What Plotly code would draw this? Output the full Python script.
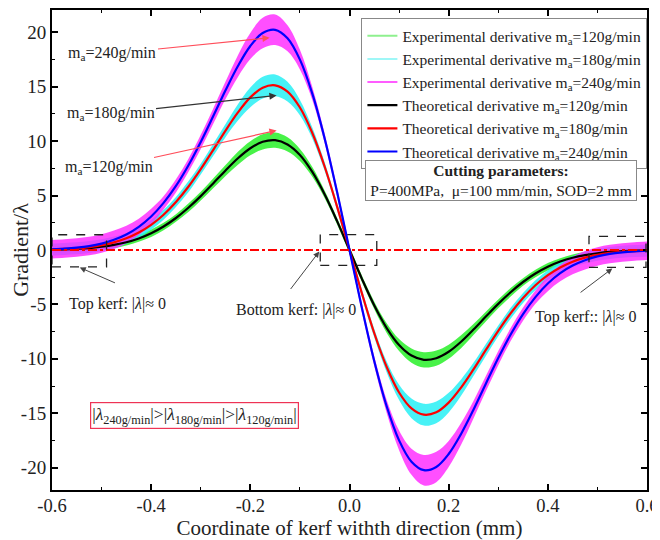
import plotly.graph_objects as go

# ---------------- data ----------------
X = [-0.6, -0.575, -0.55, -0.525, -0.5, -0.475, -0.45, -0.425, -0.4, -0.375, -0.35, -0.325,
     -0.3, -0.275, -0.25, -0.225, -0.2, -0.175, -0.15, -0.125, -0.1, -0.075, -0.05, -0.025,
     0.0, 0.025, 0.05, 0.075, 0.1, 0.125, 0.15, 0.175, 0.2, 0.225, 0.25, 0.275, 0.3, 0.325,
     0.35, 0.375, 0.4, 0.425, 0.45, 0.475, 0.5, 0.525, 0.55, 0.575, 0.6]

THEO_120 = [0.04, 0.06, 0.11, 0.18, 0.30, 0.47, 0.71, 1.06, 1.54, 2.16, 2.94, 3.88, 4.95, 6.12,
            7.31, 8.43, 9.35, 9.94, 10.09, 9.70, 8.73, 7.17, 5.10, 2.65, 0.0,
            -2.65, -5.10, -7.17, -8.73, -9.70, -10.09, -9.94, -9.35, -8.43, -7.31, -6.12, -4.95,
            -3.88, -2.94, -2.16, -1.54, -1.06, -0.71, -0.47, -0.30, -0.18, -0.11, -0.06, -0.04]
THEO_180 = [0.05, 0.10, 0.16, 0.27, 0.44, 0.70, 1.07, 1.60, 2.31, 3.24, 4.41, 5.81, 7.43, 9.18,
            10.97, 12.64, 14.02, 14.91, 15.13, 14.55, 13.09, 10.75, 7.65, 3.98, 0.0,
            -3.98, -7.65, -10.75, -13.09, -14.55, -15.13, -14.91, -14.02, -12.64, -10.97, -9.18,
            -7.43, -5.81, -4.41, -3.24, -2.31, -1.60, -1.07, -0.70, -0.44, -0.27, -0.16, -0.10, -0.05]
THEO_240 = [0.07, 0.13, 0.22, 0.36, 0.59, 0.94, 1.43, 2.13, 3.08, 4.33, 5.89, 7.77, 9.93, 12.28,
            14.67, 16.90, 18.74, 19.93, 20.23, 19.45, 17.49, 14.37, 10.23, 5.32, 0.0,
            -5.32, -10.23, -14.37, -17.49, -19.45, -20.23, -19.93, -18.74, -16.90, -14.67, -12.28,
            -9.93, -7.77, -5.89, -4.33, -3.08, -2.13, -1.43, -0.94, -0.59, -0.36, -0.22, -0.13, -0.07]

# half-width of the noisy experimental band around each curve
SPREAD_120 = [0.3, 0.3, 0.3, 0.3, 0.3, 0.3, 0.3, 0.3, 0.35, 0.35, 0.35, 0.4, 0.4, 0.45, 0.5,
              0.6, 0.65, 0.7, 0.7, 0.65, 0.55, 0.45, 0.35, 0.3, 0.3,
              0.3, 0.35, 0.45, 0.55, 0.65, 0.7, 0.7, 0.65, 0.6, 0.5, 0.45, 0.4, 0.4, 0.35, 0.35,
              0.35, 0.3, 0.3, 0.3, 0.3, 0.3, 0.3, 0.3, 0.3]
SPREAD_180 = [0.55, 0.55, 0.55, 0.55, 0.55, 0.55, 0.5, 0.5, 0.45, 0.45, 0.45, 0.5, 0.5, 0.55, 0.6,
              0.75, 0.9, 1.0, 1.0, 0.9, 0.7, 0.5, 0.4, 0.35, 0.3,
              0.35, 0.4, 0.5, 0.7, 0.9, 1.0, 1.0, 0.9, 0.75, 0.6, 0.55, 0.5, 0.5, 0.45, 0.45,
              0.45, 0.5, 0.5, 0.55, 0.55, 0.55, 0.55, 0.55, 0.55]
SPREAD_240 = [0.85, 0.85, 0.85, 0.85, 0.85, 0.85, 0.8, 0.75, 0.7, 0.6, 0.6, 0.6, 0.65, 0.7, 0.8,
              1.0, 1.2, 1.4, 1.4, 1.2, 0.9, 0.6, 0.45, 0.4, 0.35,
              0.4, 0.45, 0.6, 0.9, 1.2, 1.4, 1.4, 1.2, 1.0, 0.8, 0.7, 0.65, 0.6, 0.6, 0.6,
              0.7, 0.75, 0.8, 0.85, 0.85, 0.85, 0.85, 0.85, 0.85]

X_TICKS = [-0.6, -0.4, -0.2, 0.0, 0.2, 0.4, 0.6]
X_TICK_TEXT = ["-0.6", "-0.4", "-0.2", "0.0", "0.2", "0.4", "0.6"]
Y_TICKS = [-20, -15, -10, -5, 0, 5, 10, 15, 20]
Y_TICK_TEXT = ["-20", "-15", "-10", "-5", "0", "5", "10", "15", "20"]

EXP_NAMES = ["Experimental derivative m<sub>a</sub>=120g/min",
             "Experimental derivative m<sub>a</sub>=180g/min",
             "Experimental derivative m<sub>a</sub>=240g/min"]
THEO_NAMES = ["Theoretical derivative m<sub>a</sub>=120g/min",
              "Theoretical derivative m<sub>a</sub>=180g/min",
              "Theoretical derivative m<sub>a</sub>=240g/min"]

# ---------------- styles ----------------
FONT = "Liberation Serif, Times New Roman, serif"
EXP_COLORS = ["rgba(40,240,40,0.85)", "rgba(40,240,245,0.85)", "rgba(255,40,255,0.82)"]
EXP_LEG_COLORS = ["#8ef08e", "#9ff7f7", "#ff5cff"]
THEO_COLORS = ["#000000", "#ff0000", "#0000ff"]
TXT = "#222222"

fig = go.Figure()

# legend entries for experimental series
for name, c in zip(EXP_NAMES, EXP_LEG_COLORS):
    fig.add_trace(go.Scatter(x=[None], y=[None], mode="lines", name=name,
                             line=dict(color=c, width=2)))

# experimental noisy bands
for theo, spread, c in zip([THEO_120, THEO_180, THEO_240],
                           [SPREAD_120, SPREAD_180, SPREAD_240], EXP_COLORS):
    lower = [t - s for t, s in zip(theo, spread)]
    upper = [t + s for t, s in zip(theo, spread)]
    fig.add_trace(go.Scatter(x=X, y=lower, mode="lines", showlegend=False,
                             line=dict(color=c, width=0, shape="spline"), hoverinfo="skip"))
    fig.add_trace(go.Scatter(x=X, y=upper, mode="lines", showlegend=False, fill="tonexty",
                             fillcolor=c, line=dict(color=c, width=0, shape="spline"),
                             hoverinfo="skip"))

# theoretical curves
for theo, name, c in zip([THEO_120, THEO_180, THEO_240], THEO_NAMES, THEO_COLORS):
    fig.add_trace(go.Scatter(x=X, y=theo, mode="lines", name=name,
                             line=dict(color=c, width=2.2, shape="spline")))

# zero reference line
fig.add_hline(y=0, line=dict(color="#ff0000", width=2, dash="dashdot"), layer="above")

# dashed boxes
for x0, x1, y0, y1 in [(-0.6, -0.49, -1.55, 1.4), (-0.059, 0.055, -1.42, 1.42),
                       (0.483, 0.598, -1.6, 1.25)]:
    fig.add_shape(type="rect", x0=x0, x1=x1, y0=y0, y1=y1,
                  line=dict(color="#222222", width=1.3, dash="dash"), layer="above")

ann_font = dict(family=FONT, size=16, color=TXT)

# m_a labels with arrows
for txt, tx, ty, hx, hy, ac in [
        ("m<sub>a</sub>=240g/min", -0.478, 18.05, -0.161, 19.5, "#ff4d5a"),
        ("m<sub>a</sub>=180g/min", -0.482, 12.54, -0.147, 14.2, "#333333"),
        ("m<sub>a</sub>=120g/min", -0.486, 7.58, -0.147, 10.98, "#ff4d5a")]:
    fig.add_annotation(x=hx, y=hy, ax=tx, ay=ty, axref="x", ayref="y", xref="x", yref="y",
                       text=txt, showarrow=True, arrowhead=2, arrowsize=1.2, arrowwidth=1.2,
                       arrowcolor=ac, font=ann_font)

# kerf labels
for txt, tx, ty in [("Top kerf: |<i>λ</i>|≈ 0", -0.467, -4.92),
                    ("Bottom kerf: |<i>λ</i>|≈ 0", -0.107, -5.47),
                    ("Top kerf:: |<i>λ</i>|≈ 0", 0.475, -6.2)]:
    fig.add_annotation(x=tx, y=ty, xref="x", yref="y", text=txt, showarrow=False, font=ann_font)

for tx, ty, hx, hy in [(-0.470, -3.08, -0.544, -1.61),
                       (-0.121, -3.72, -0.061, -0.14),
                       (0.463, -4.0, 0.530, -1.70)]:
    fig.add_annotation(x=hx, y=hy, ax=tx, ay=ty, axref="x", ayref="y", xref="x", yref="y",
                       text="", showarrow=True, arrowhead=2, arrowsize=1.2, arrowwidth=1,
                       arrowcolor="#444444")

# red box
fig.add_annotation(x=-0.312, y=-15.2, xref="x", yref="y", showarrow=False,
                   text="|<i>λ</i><sub>240g/min</sub>|>|<i>λ</i><sub>180g/min</sub>|>|<i>λ</i><sub>120g/min</sub>|",
                   font=dict(family=FONT, size=17.5, color=TXT),
                   bordercolor="#ee3355", borderwidth=1.2, borderpad=1, bgcolor="white")

# cutting parameters box
fig.add_annotation(x=0.755, y=0.645, xref="paper", yref="paper", showarrow=False,
                   xanchor="center", yanchor="middle",
                   text="<b>Cutting parameters:</b><br>P=400MPa,\u00a0 μ=100 mm/min, SOD=2 mm",
                   font=dict(family=FONT, size=15.5, color=TXT), align="center",
                   width=268, bordercolor="#888888", borderwidth=1, borderpad=1, bgcolor="white")

axis_common = dict(showline=True, linewidth=2, linecolor="black", mirror="ticks",
                   ticks="inside", ticklen=6, tickwidth=1.5, tickcolor="black",
                   showgrid=False, zeroline=False, automargin=False)

fig.update_xaxes(range=[-0.6, 0.6], tickvals=X_TICKS, ticktext=X_TICK_TEXT,
                 tickfont=dict(family=FONT, size=18.5, color=TXT), ticklabelstandoff=-2,
                 minor=dict(ticks="inside", ticklen=3, tickwidth=1.2, dtick=0.1, tick0=-0.6,
                            tickcolor="black", showgrid=False),
                 title=dict(text="Coordinate of kerf withth direction (mm)",
                            font=dict(family=FONT, size=21, color=TXT), standoff=5),
                 **axis_common)
fig.update_yaxes(range=[-22.05, 22.05], tickvals=Y_TICKS, ticktext=Y_TICK_TEXT,
                 tickfont=dict(family=FONT, size=19, color=TXT),
                 minor=dict(ticks="inside", ticklen=3, tickwidth=1.2, dtick=2.5, tick0=0,
                            tickcolor="black", showgrid=False),
                 title=dict(text="Gradient/λ",
                            font=dict(family=FONT, size=22, color=TXT), standoff=2),
                 **axis_common)

# the page body adds an 8px offset, so the figure is sized to fit the window
fig.update_layout(
    width=652, height=532,
    margin=dict(l=44, r=13, t=2, b=50),
    paper_bgcolor="white", plot_bgcolor="white",
    font=dict(family=FONT, size=15, color=TXT),
    legend=dict(x=0.52, y=0.983, xanchor="left", yanchor="top", traceorder="normal",
                bgcolor="white", bordercolor="#888888", borderwidth=1,
                font=dict(family=FONT, size=15.5, color=TXT),
                itemwidth=30, tracegroupgap=0),
    showlegend=True,
)

fig.write_html("out.html")
